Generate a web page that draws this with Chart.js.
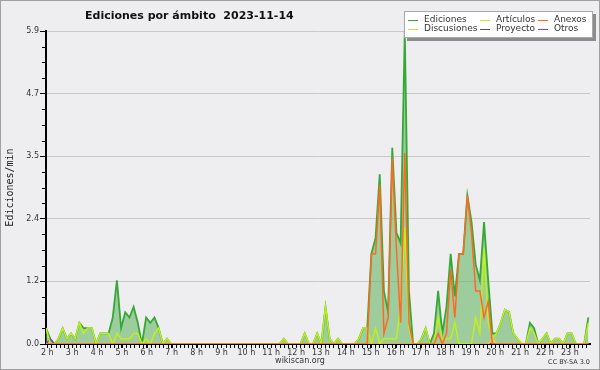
<!DOCTYPE html>
<html>
<head>
<meta charset="utf-8">
<script src="https://cdn.jsdelivr.net/npm/chart.js@4.4.0/dist/chart.umd.min.js"></script>
<style>
  html, body { margin: 0; padding: 0; background: #eeeef0; }
  #wrap { width: 600px; height: 370px; }
</style>
</head>
<body>
<div id="wrap"><canvas id="chart" width="600" height="370"></canvas></div>
<script>
// Series names (legend order)
const seriesNames = ['Ediciones', 'Artículos', 'Anexos', 'Discusiones', 'Proyecto', 'Otros'];
const seriesColors = ['#36a836', '#c2ee1e', '#ff6a22', '#ffc933', '#555555', '#8040e0'];

// Edits per minute, one value per 10-minute sample, from 2 h on
const ediciones = [
  0.3, 0.1, 0, 0.1, 0.3, 0.1, 0.2, 0.1, 0.4, 0.3,
  0.3, 0.3, 0, 0.2, 0.2, 0.2, 0.5, 1.2, 0.3, 0.6,
  0.5, 0.7, 0.4, 0, 0.5, 0.4, 0.5, 0.3, 0, 0.1,
  0, 0, 0, 0, 0, 0, 0, 0, 0, 0,
  0, 0, 0, 0, 0, 0, 0, 0, 0, 0,
  0, 0, 0, 0, 0, 0, 0, 0.1, 0, 0,
  0, 0, 0.2, 0, 0, 0.2, 0, 0.7, 0.1, 0,
  0.1, 0, 0, 0, 0, 0.1, 0.3, 0.3, 1.7, 2.0,
  3.2, 1.0, 0.6, 3.7, 2.1, 1.9, 5.9, 1.0, 0, 0,
  0.1, 0.3, 0, 0.2, 1.0, 0.2, 0.7, 1.7, 0.9, 1.7,
  1.7, 2.8, 2.3, 1.5, 1.2, 2.3, 1.2, 0.2, 0.2, 0.4,
  0.65, 0.6, 0.2, 0.1, 0, 0, 0.4, 0.3, 0, 0.1,
  0.2, 0, 0.1, 0.1, 0, 0.2, 0.2, 0, 0, 0,
  0.5
];
const articulos = [
  0.3, 0, 0, 0.1, 0.3, 0.1, 0.2, 0.1, 0.4, 0.2,
  0.3, 0.3, 0, 0.2, 0.2, 0.2, 0, 0.2, 0.1, 0.1,
  0.1, 0.2, 0.2, 0, 0.1, 0, 0.2, 0.3, 0, 0.1,
  0, 0, 0, 0, 0, 0, 0, 0, 0, 0,
  0, 0, 0, 0, 0, 0, 0, 0, 0, 0,
  0, 0, 0, 0, 0, 0, 0, 0.1, 0, 0,
  0, 0, 0.2, 0, 0, 0.2, 0, 0.7, 0.1, 0,
  0.1, 0, 0, 0, 0, 0.1, 0.3, 0.3, 0, 0.3,
  0, 0.1, 0.1, 0.1, 0.1, 0.7, 2.2, 0.3, 0, 0,
  0.1, 0.3, 0, 0, 0.5, 0.1, 0.1, 0.1, 0.4, 0,
  0, 0, 0, 0.5, 0.2, 1.8, 0.4, 0.1, 0.2, 0.4,
  0.65, 0.6, 0.2, 0.1, 0, 0, 0.3, 0.2, 0, 0.1,
  0.2, 0, 0.1, 0.1, 0, 0.2, 0.2, 0, 0, 0,
  0.4
];
const anexos = [
  0, 0, 0, 0, 0, 0, 0, 0, 0, 0,
  0, 0, 0, 0, 0, 0, 0, 0, 0, 0,
  0, 0, 0, 0, 0, 0, 0, 0, 0, 0,
  0, 0, 0, 0, 0, 0, 0, 0, 0, 0,
  0, 0, 0, 0, 0, 0, 0, 0, 0, 0,
  0, 0, 0, 0, 0, 0, 0, 0, 0, 0,
  0, 0, 0, 0, 0, 0, 0, 0, 0, 0,
  0, 0, 0, 0, 0, 0, 0, 0, 1.7, 1.7,
  3.0, 0.2, 0.5, 3.5, 1.8, 0.4, 3.6, 0.4, 0, 0,
  0, 0, 0, 0, 0.2, 0, 0.2, 1.4, 0.5, 1.7,
  1.7, 2.8, 2.1, 1.0, 1.0, 0.5, 0.8, 0, 0, 0,
  0, 0, 0, 0, 0, 0, 0, 0, 0, 0,
  0, 0, 0, 0, 0, 0, 0, 0, 0, 0,
  0
];
const discusiones = [
  0, 0, 0, 0, 0, 0, 0, 0, 0, 0,
  0, 0, 0, 0, 0, 0, 0, 0, 0, 0,
  0, 0, 0, 0, 0, 0, 0, 0, 0, 0,
  0, 0, 0, 0, 0, 0, 0, 0, 0, 0,
  0, 0, 0, 0, 0, 0, 0, 0, 0, 0,
  0, 0, 0, 0, 0, 0, 0, 0, 0, 0,
  0, 0, 0, 0, 0, 0, 0, 0, 0, 0,
  0, 0, 0, 0, 0, 0, 0, 0, 0, 0,
  0, 0, 0, 0, 0, 0, 0, 0, 0, 0,
  0, 0, 0, 0, 0, 0, 0, 0, 0, 0,
  0, 0, 0, 0, 0, 0, 0, 0.1, 0, 0,
  0, 0, 0, 0, 0, 0, 0, 0, 0, 0,
  0, 0, 0, 0, 0, 0, 0, 0, 0, 0,
  0
];
const proyecto = [
  0, 0, 0, 0, 0, 0, 0, 0, 0, 0,
  0, 0, 0, 0, 0, 0, 0, 0, 0, 0,
  0, 0, 0, 0, 0, 0, 0, 0, 0, 0,
  0, 0, 0, 0, 0, 0, 0, 0, 0, 0,
  0, 0, 0, 0, 0, 0, 0, 0, 0, 0,
  0, 0, 0, 0, 0, 0, 0, 0, 0, 0,
  0, 0, 0, 0, 0, 0, 0, 0, 0, 0,
  0, 0, 0, 0, 0, 0, 0, 0, 0, 0,
  0, 0, 0, 0, 0, 0, 0, 0, 0, 0,
  0, 0, 0, 0, 0, 0, 0, 0, 0, 0,
  0, 0, 0, 0, 0, 0, 0, 0, 0, 0,
  0, 0, 0, 0, 0, 0, 0, 0, 0, 0,
  0, 0, 0, 0, 0, 0, 0, 0, 0, 0,
  0
];
const otros = [
  0, 0.1, 0, 0, 0, 0, 0, 0, 0, 0,
  0, 0, 0, 0, 0, 0, 0, 0, 0, 0,
  0, 0, 0, 0, 0, 0, 0, 0, 0, 0,
  0, 0, 0, 0, 0, 0, 0, 0, 0, 0,
  0, 0, 0, 0, 0, 0, 0, 0, 0, 0,
  0, 0, 0, 0, 0, 0, 0, 0, 0, 0,
  0, 0, 0, 0, 0, 0, 0, 0, 0, 0,
  0, 0, 0, 0, 0, 0, 0, 0, 0, 0,
  0, 0, 0, 0, 0, 0, 0, 0, 0, 0,
  0, 0, 0, 0, 0, 0, 0, 0, 0, 0,
  0, 0, 0, 0, 0, 0, 0, 0, 0, 0,
  0, 0, 0, 0, 0, 0, 0, 0, 0, 0,
  0, 0, 0, 0, 0, 0, 0, 0, 0, 0,
  0
];

// Axis ticks
const yTicks = [0, 1.18, 2.36, 3.54, 4.72, 5.9];
const hourTicks = [2, 3, 4, 5, 6, 7, 8, 9, 10, 11, 12, 13, 14, 15, 16, 17, 18, 19, 20, 21, 22, 23];
const hourRange = [1.948, 23.81];
const sampleRange = [0, 130.4];

const seriesValues = [ediciones, articulos, anexos, discusiones, proyecto, otros];
const toPoints = vals => vals.map((v, i) => ({ x: i, y: v }));

const datasets = seriesValues.map((vals, k) => ({
    label: seriesNames[k],
    data: toPoints(vals),
    borderColor: seriesColors[k],
    borderWidth: k === 0 ? 1.8 : 1.5,
    backgroundColor: k === 0 ? 'rgba(103,181,101,0.6)' : 'transparent',
    fill: k === 0 ? 'origin' : false,
    pointRadius: 0,
    tension: 0,
    // first dataset at the back, Anexos on top
    order: [10, 2, 1, 3, 5, 4][k]
}));

// Title, legend box, footer texts and minor ticks
const decor = {
    id: 'decor',
    beforeDraw(chart) {
        const ctx = chart.ctx;
        ctx.save();
        ctx.fillStyle = '#eeeef0';
        ctx.fillRect(0, 0, chart.width, chart.height);
        ctx.restore();
    },
    afterDraw(chart) {
        const ctx = chart.ctx;
        const ya = chart.scales.y;
        const xa = chart.scales.hours;
        ctx.save();

        // minor ticks
        ctx.strokeStyle = '#000';
        ctx.lineWidth = 1;
        const minorY = (yTicks[1] - yTicks[0]) / 4;
        for (let k = 1; k < (yTicks.length - 1) * 4; k++) {
            if (k % 4 === 0) continue;
            const py = Math.round(ya.getPixelForValue(k * minorY)) + 0.5;
            ctx.beginPath(); ctx.moveTo(ya.right - 4, py); ctx.lineTo(ya.right, py); ctx.stroke();
        }
        for (let m = 1; ; m++) {
            const h = hourTicks[0] + m / 6;
            if (h > xa.max) break;
            const px = Math.round(xa.getPixelForValue(h)) + 0.5;
            ctx.beginPath(); ctx.moveTo(px, xa.top); ctx.lineTo(px, xa.top + 4); ctx.stroke();
        }

        // title
        ctx.fillStyle = '#111';
        ctx.font = 'bold 11px "DejaVu Sans"';
        ctx.textAlign = 'left';
        ctx.textBaseline = 'alphabetic';
        ctx.fillText('Ediciones por ámbito  2023-11-14', 85, 19);

        // legend box
        ctx.fillStyle = '#8c8c8c';
        ctx.fillRect(407, 14, 189, 27);
        ctx.fillStyle = '#ffffff';
        ctx.fillRect(404, 11, 189, 27);
        ctx.strokeStyle = '#a8a8a8';
        ctx.strokeRect(404.5, 11.5, 188, 26);
        const colX = [408, 480, 538];
        const rowY = [20, 29];
        ctx.font = '9px "DejaVu Sans"';
        ctx.textBaseline = 'middle';
        seriesNames.forEach((name, k) => {
            const cx = colX[k % 3], cy = rowY[Math.floor(k / 3)];
            ctx.strokeStyle = seriesColors[k];
            ctx.lineWidth = 1;
            ctx.beginPath(); ctx.moveTo(cx, cy + 0.5); ctx.lineTo(cx + 10, cy + 0.5); ctx.stroke();
            ctx.fillStyle = '#333';
            ctx.fillText(name, cx + 16, cy);
        });

        // footer
        ctx.textBaseline = 'alphabetic';
        ctx.fillStyle = '#333';
        ctx.font = '8px "DejaVu Sans"';
        ctx.textAlign = 'center';
        ctx.fillText('wikiscan.org', 300, 363);
        ctx.font = '6.5px "DejaVu Sans"';
        ctx.textAlign = 'right';
        ctx.fillText('CC BY-SA 3.0', 590, 364);

        // frame
        ctx.strokeStyle = '#a0a0a0';
        ctx.lineWidth = 1;
        ctx.strokeRect(0.5, 0.5, chart.width - 1, chart.height - 1);
        ctx.restore();
    }
};

const ctx = document.getElementById('chart').getContext('2d');
const chart = new Chart(ctx, {
    type: 'line',
    data: { datasets },
    plugins: [decor],
    options: {
        responsive: false,
        devicePixelRatio: 1,
        animation: false,
        layout: { padding: { top: 31, right: 10, left: 0, bottom: 0 } },
        plugins: {
            legend: { display: false },
            title: { display: false },
            tooltip: { enabled: false }
        },
        scales: {
            x: {
                type: 'linear',
                display: false,
                min: sampleRange[0],
                max: sampleRange[1]
            },
            hours: {
                type: 'linear',
                position: 'bottom',
                min: hourRange[0],
                max: hourRange[1],
                z: 1,
                afterFit: s => { s.height = 26; },
                afterBuildTicks: s => { s.ticks = hourTicks.map(v => ({ value: v })); },
                grid: { drawOnChartArea: false, drawTicks: true, tickLength: 4, tickColor: '#000' },
                border: { display: true, color: '#000', width: 2 },
                ticks: {
                    padding: 0,
                    maxRotation: 0,
                    autoSkip: false,
                    color: '#333',
                    font: { family: 'DejaVu Sans', size: 8 },
                    callback: v => v + ' h'
                }
            },
            y: {
                type: 'linear',
                min: 0,
                max: yTicks[yTicks.length - 1],
                afterFit: s => { s.width = 46; },
                afterBuildTicks: s => { s.ticks = yTicks.map(v => ({ value: v })); },
                grid: { color: '#c8c8c8', lineWidth: 1, tickLength: 6, tickColor: '#000' },
                border: { display: true, color: '#000', width: 2 },
                ticks: {
                    padding: 1,
                    color: '#333',
                    font: { family: 'DejaVu Sans', size: 8 },
                    callback: v => v.toFixed(1)
                },
                title: {
                    display: true,
                    text: 'Ediciones/min',
                    color: '#222',
                    font: { family: 'DejaVu Sans Mono', size: 10 },
                    padding: { top: 4, bottom: 0 }
                }
            }
        }
    }
});
</script>
</body>
</html>
